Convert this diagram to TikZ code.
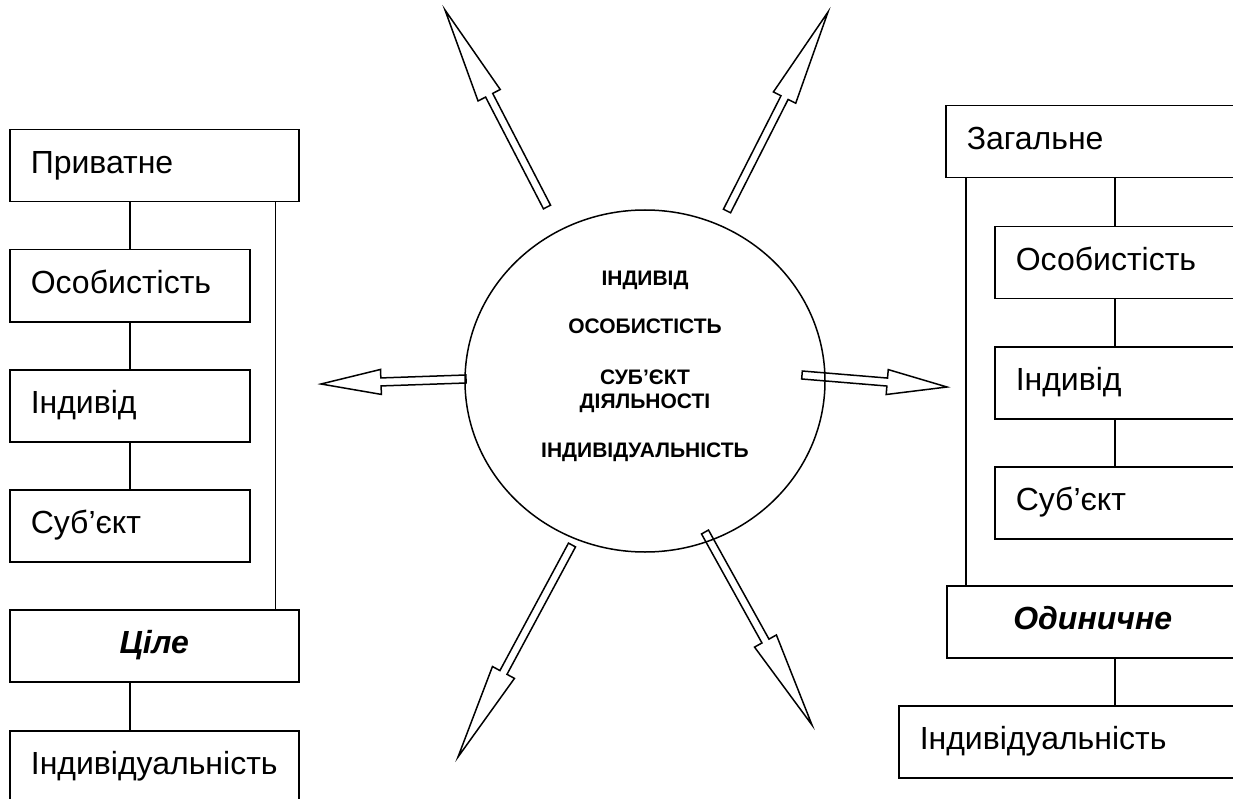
\documentclass[tikz,border=0pt]{standalone}
\usepackage{fontspec}
\setmainfont{Liberation Sans}
\usetikzlibrary{shapes.geometric,calc}
\newcommand{\hollowarrow}[3]{%
  \coordinate (hb) at ($(#2)!#3!(#1)$);
  \draw[arr] ($(#1)!4pt!90:(#2)$) -- ($(hb)!4pt!90:(#2)$) -- ($(hb)!12.5pt!90:(#2)$)
    -- (#2) -- ($(hb)!12.5pt!-90:(#2)$) -- ($(hb)!4pt!-90:(#2)$) -- ($(#1)!4pt!-90:(#2)$) -- cycle;}
\begin{document}
\begin{tikzpicture}[x=1pt,y=-1pt,
  ln/.style={line width=1.5pt},
  arr/.style={line width=1.5pt, line join=miter},
  box/.style={draw, line width=1.5pt, rectangle, anchor=north west, inner xsep=21pt, inner ysep=0pt,
    minimum height=72pt, text height=22pt, text depth=7pt, align=left,
    font=\fontsize{32}{37}\selectfont},
  cbox/.style={box, align=center},
  ctext/.style={anchor=base, font=\fontsize{21}{24}\selectfont\bfseries, align=center}]
\clip (0,0) rectangle (1233,799);
\fill[white] (0,0) rectangle (1233,799);
% left column
\node[box, text width=247pt] (priv) at (9,129) {Приватне};
\node[box, text width=198pt] (osobL) at (9,249) {Особистість};
\node[box, text width=198pt] (indL) at (9,369) {Індивід};
\node[box, text width=198pt] (subL) at (9,489) {Суб’єкт};
\node[cbox, text width=247pt, font=\fontsize{32}{37}\selectfont\bfseries\itshape] (tsile) at (9,609) {Ціле};
\node[cbox, text width=247pt] (indvL) at (9,730) {Індивідуальність};
\draw[ln] (priv.south -| osobL.north) -- (osobL.north);
\draw[ln] (osobL.south) -- (indL.north);
\draw[ln] (indL.south) -- (subL.north);
\draw[ln] (tsile.south -| osobL.south) -- (indvL.north -| osobL.south);
\draw[ln] ([xshift=-24pt]priv.south east) -- ([xshift=-24pt]tsile.north east);
% right column
\node[box, text width=253pt] (zag) at (945,105) {Загальне};
\node[box, text width=198pt] (osobR) at (994,226) {Особистість};
\node[box, text width=198pt] (indR) at (994,346) {Індивід};
\node[box, text width=198pt] (subR) at (994,466) {Суб’єкт};
\node[cbox, text width=250pt, font=\fontsize{32}{37}\selectfont\bfseries\itshape] (odyn) at (946,585) {Одиничне};
\node[box, text width=300pt] (indvR) at (898,705) {Індивідуальність};
\draw[ln] (zag.south -| osobR.north) -- (osobR.north);
\draw[ln] (osobR.south) -- (indR.north);
\draw[ln] (indR.south) -- (subR.north);
\draw[ln] (odyn.south -| osobR.south) -- (indvR.north -| osobR.south);
\draw[ln] ([xshift=21pt]zag.south west) -- ([xshift=20pt]odyn.north west);
% central ellipse
\node[draw, ellipse, line width=1.5pt, minimum width=360pt, minimum height=342pt, inner sep=0pt] (circ) at (645,381) {};
\node[ctext] (t1) at (645,286) {ІНДИВІД};
\node[ctext] (t2) at (645,334) {ОСОБИСТІСТЬ};
\node[ctext] (t3) at (645,408) {СУБ’ЄКТ\\ДІЯЛЬНОСТІ};
\node[ctext] (t4) at (645,457) {ІНДИВІДУАЛЬНІСТЬ};
% arrows
\coordinate (a1t) at (547,207); \coordinate (a1h) at (445,10);
\coordinate (a2t) at (727,211); \coordinate (a2h) at (828,12);
\coordinate (a3t) at (466,379); \coordinate (a3h) at (321,384);
\coordinate (a4t) at (802,375); \coordinate (a4h) at (947,387);
\coordinate (a5t) at (572,545); \coordinate (a5h) at (458,757);
\coordinate (a6t) at (705,532); \coordinate (a6h) at (812,725);
\hollowarrow{a1t}{a1h}{96pt}
\hollowarrow{a2t}{a2h}{96pt}
\hollowarrow{a3t}{a3h}{60pt}
\hollowarrow{a4t}{a4h}{60pt}
\hollowarrow{a5t}{a5h}{96pt}
\hollowarrow{a6t}{a6h}{96pt}
\end{tikzpicture}
\end{document}
